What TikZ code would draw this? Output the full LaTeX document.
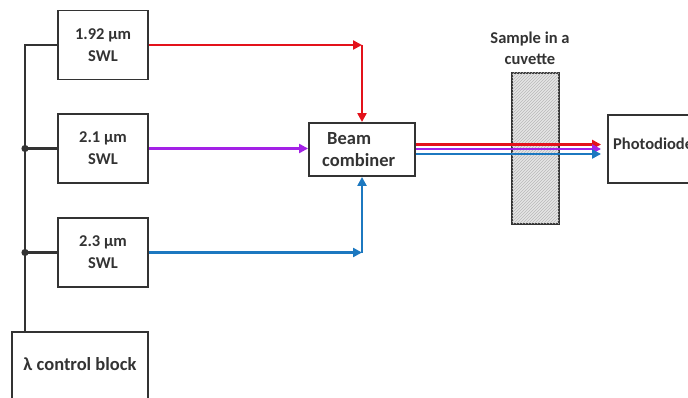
\documentclass[tikz,border=0pt]{standalone}
\usepackage{fontspec}
\setmainfont{Carlito}
\usetikzlibrary{arrows.meta,patterns}
\definecolor{ink}{HTML}{333333}
\definecolor{bred}{HTML}{E3121B}
\definecolor{bpur}{HTML}{A321E6}
\definecolor{bblue}{HTML}{1C78C0}
\begin{document}
\begin{tikzpicture}[x=1pt,y=-1pt,
  box/.style={draw=ink, line width=1.9pt, fill=white, text=ink, inner sep=0pt,
    font=\bfseries\fontsize{16.5}{22}\selectfont, align=center},
  lbl/.style={text=ink, inner sep=0pt, font=\bfseries\fontsize{16.5}{21}\selectfont},
  biglbl/.style={text=ink, inner sep=0pt, font=\bfseries\fontsize{18.5}{22}\selectfont},
  beam/.style={line width=2.6pt, -{Triangle[length=9pt,width=9pt]}},
  bus/.style={draw=ink, line width=2.6pt},
]
\useasboundingbox (0,0) rectangle (688,398);
\clip (0,0) rectangle (688,398);

% sources
\node[box, minimum width=90, minimum height=69] (b1) at (103,45) {1.92 µm\\SWL};
\node[box, minimum width=90, minimum height=69] (b2) at (103,148.5) {2.1 µm\\SWL};
\node[box, minimum width=90, minimum height=69] (b3) at (103,252.5) {2.3 µm\\SWL};

% control block
\node[box, minimum width=136, minimum height=72] (lam) at (80,368) {};
\node[biglbl, anchor=base] (lamt) at (80,370) {λ control block};

% combiner
\node[box, minimum width=106, minimum height=53] (comb) at (362,149.5) {};
\node[biglbl, anchor=base west] (combt1) at (327,145) {Beam};
\node[biglbl, anchor=base west] (combt2) at (322,167) {combiner};

% photodiode
\node[box, minimum width=110, minimum height=68] (pd) at (663,149) {};
\node[lbl, anchor=base west] (pdt) at (613,150) {Photodiode};

% cuvette
\node[draw=ink, line width=1.9pt, fill=gray!20, minimum width=47, minimum height=151, inner sep=0pt,
  postaction={pattern=north east lines, pattern color=gray!55}] (cuv) at (535.5,148.5) {};
\node[lbl, align=center] (smp) at (530,48) {Sample in a\\cuvette};

% bus
\coordinate (busx) at (25,0);
\draw[bus] (b1.west) -- (b1.west -| busx) -- (lam.north -| busx);
\draw[bus] (b2.west) -- (b2.west -| busx);
\draw[bus] (b3.west) -- (b3.west -| busx);
\fill[ink] (b2.west -| busx) circle (3.6);
\fill[ink] (b3.west -| busx) circle (3.6);

% beams in
\coordinate (rc) at (comb.north |- b1.east);
\coordinate (bc) at (comb.south |- b3.east);
\draw[beam, bred] (b1.east) -- (rc);
\draw[beam, bred] (rc) -- (comb.north);
\draw[beam, bpur] (b2.east) -- (b2.east -| comb.west);
\draw[beam, bblue] (b3.east) -- (bc);
\draw[beam, bblue] (bc) -- (comb.south);

% beams out
\draw[beam, bred, shorten >=6pt] ([yshift=5pt]comb.east) -- ([yshift=5pt]comb.east -| pd.west);
\draw[beam, bpur, shorten >=6pt] ([yshift=0.5pt]comb.east) -- ([yshift=0.5pt]comb.east -| pd.west);
\draw[beam, bblue, shorten >=6pt] ([yshift=-4.5pt]comb.east) -- ([yshift=-4.5pt]comb.east -| pd.west);
\end{tikzpicture}
\end{document}
